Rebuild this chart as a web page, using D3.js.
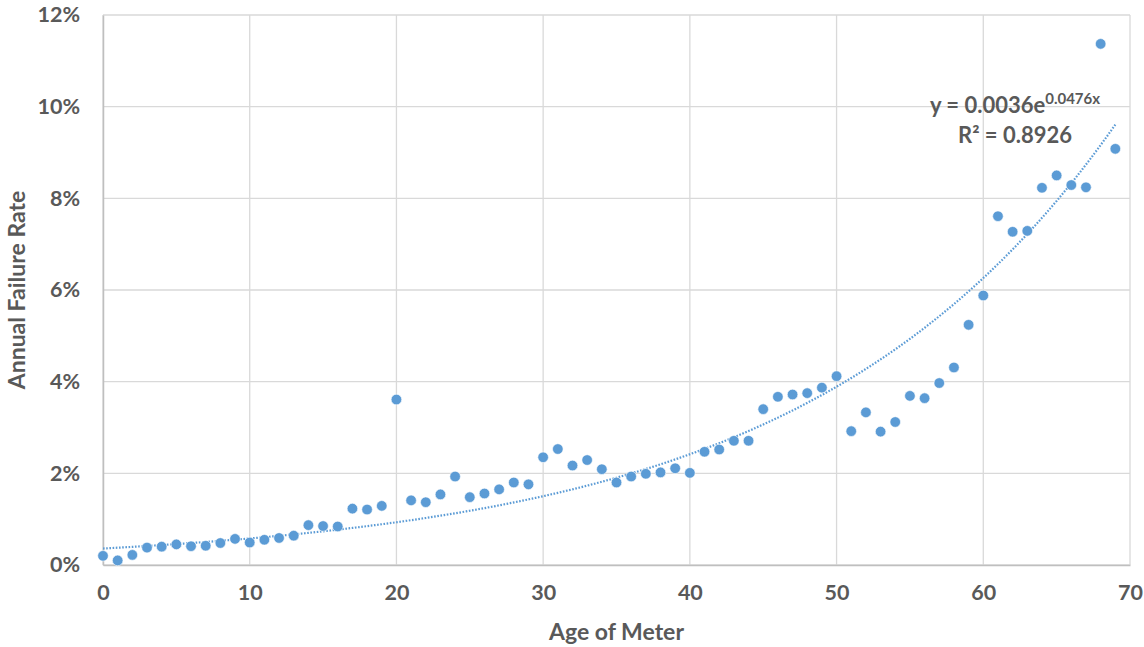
<!DOCTYPE html>
<html>
<head>
<meta charset="utf-8">
<script src="https://cdn.jsdelivr.net/npm/d3@7"></script>
<style>
  body { margin: 0; background: #fff; }
  text { font-family: Lato, "Liberation Sans", sans-serif; font-weight: bold; fill: #595959; }
</style>
</head>
<body>
<div id="chart"></div>
<script>
// age of meter (years)
const ages = d3.range(0, 70)
// annual failure rate (%), one per age
const failureRates = [
  0.20, 0.10, 0.22, 0.38, 0.40, 0.45, 0.41, 0.42, 0.48, 0.57,
  0.49, 0.55, 0.59, 0.64, 0.87, 0.85, 0.84, 1.23, 1.21, 1.29,
  3.61, 1.41, 1.37, 1.54, 1.93, 1.48, 1.56, 1.65, 1.80, 1.76,
  2.35, 2.53, 2.17, 2.29, 2.09, 1.80, 1.93, 1.99, 2.02, 2.11,
  2.01, 2.47, 2.52, 2.71, 2.71, 3.40, 3.67, 3.72, 3.75, 3.87,
  4.12, 2.92, 3.33, 2.91, 3.12, 3.69, 3.64, 3.97, 4.31, 5.24,
  5.88, 7.61, 7.27, 7.29, 8.23, 8.50, 8.29, 8.24, 11.37, 9.08
]
// exponential trendline as printed on the chart: y = a * e^(b x)
const trendA = 0.0036
const trendB = 0.0476
const trendLabel = ['y = 0.0036e', '0.0476x', 'R² = 0.8926']

const xTicks = [0, 10, 20, 30, 40, 50, 60, 70]
const yTicks = [0, 2, 4, 6, 8, 10, 12]

const width = 1144
const height = 647
const margin = {top: 15, right: 14, bottom: 82, left: 103}

const svg = d3.select('#chart').append('svg').attr('width', width).attr('height', height)

const xScale = d3.scaleLinear().domain([0, 70]).range([margin.left, width - margin.right])
const yScale = d3.scaleLinear().domain([0, 12]).range([height - margin.bottom, margin.top])

// gridlines
svg.append('g').selectAll('line').data(xTicks).join('line')
   .attr('x1', d => xScale(d)).attr('x2', d => xScale(d))
   .attr('y1', yScale(0)).attr('y2', yScale(12))
   .attr('stroke', '#d9d9d9').attr('stroke-width', 1.3)
svg.append('g').selectAll('line').data(yTicks).join('line')
   .attr('x1', xScale(0)).attr('x2', xScale(70))
   .attr('y1', d => yScale(d)).attr('y2', d => yScale(d))
   .attr('stroke', '#d9d9d9').attr('stroke-width', 1.3)

// axes
const xAxis = d3.axisBottom(xScale).tickValues(xTicks).tickSize(0).tickPadding(20)
const yAxis = d3.axisLeft(yScale).tickValues(yTicks).tickSize(0).tickPadding(23).tickFormat(d => d + '%')
svg.append('g')
   .attr('transform', 'translate(0 ' + yScale(0) + ')')
   .call(xAxis)
svg.append('g')
   .attr('transform', 'translate(' + xScale(0) + ' 0)')
   .call(yAxis)
svg.selectAll('.domain').attr('stroke', '#bfbfbf').attr('stroke-width', 1.5)
svg.selectAll('.tick text').attr('font-size', 21.5).style('font-family', 'Lato, sans-serif').style('font-weight', 'bold').attr('fill', '#595959')

// axis titles
svg.append('text')
   .attr('x', (xScale(0) + xScale(70)) / 2).attr('y', 640)
   .attr('text-anchor', 'middle').attr('font-size', 23)
   .text('Age of Meter')
svg.append('text')
   .attr('transform', 'translate(25 ' + yScale(6.0) + ') rotate(-90)')
   .attr('text-anchor', 'middle').attr('font-size', 23)
   .text('Annual Failure Rate')

// trendline
const trend = d3.line()
  .x(d => xScale(d))
  .y(d => yScale(trendA * Math.exp(trendB * d) * 100))
svg.append('path')
   .datum(d3.range(0, 69.01, 0.25))
   .attr('d', trend)
   .attr('fill', 'none')
   .attr('stroke', '#5b9bd5')
   .attr('stroke-width', 2.2)
   .attr('stroke-dasharray', '1.6 1.6')

// points
svg.append('g').selectAll('circle').data(ages).join('circle')
   .attr('cx', d => xScale(d))
   .attr('cy', (d, i) => yScale(failureRates[i]))
   .attr('r', 5.3)
   .attr('fill', '#5b9bd5')
   .attr('stroke', '#fff')
   .attr('stroke-width', 0.6)

// equation label
const eq = svg.append('text')
   .attr('x', 1015).attr('y', 113)
   .attr('text-anchor', 'middle').attr('font-size', 22)
eq.append('tspan').text(trendLabel[0])
eq.append('tspan').attr('font-size', 15).attr('dy', -9).text(trendLabel[1])
svg.append('text')
   .attr('x', 1015).attr('y', 143)
   .attr('text-anchor', 'middle').attr('font-size', 22)
   .text(trendLabel[2])
</script>
</body>
</html>
